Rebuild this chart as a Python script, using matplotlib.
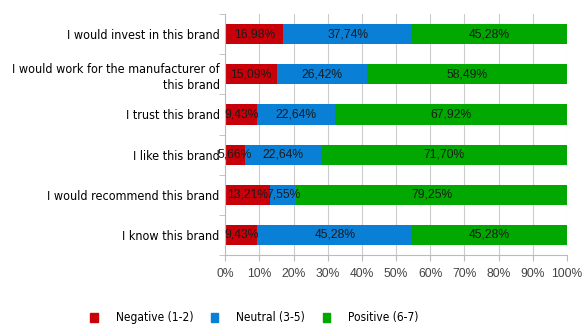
import numpy as np
import matplotlib.pyplot as plt
from matplotlib.patches import Patch

categories = ["I would invest in this brand",
              "I would work for the manufacturer of\nthis brand",
              "I trust this brand",
              "I like this brand",
              "I would recommend this brand",
              "I know this brand"]
negative = [16.98, 15.09, 9.43, 5.66, 13.21, 9.43]
neutral = [37.74, 26.42, 22.64, 22.64, 7.55, 45.28]
positive = [45.28, 58.49, 67.92, 71.70, 79.25, 45.28]
series_names = ["Negative (1-2)", "Neutral (3-5)", "Positive (6-7)"]
colors = ["#c8000a", "#0a7fd6", "#00a800"]

fig = plt.figure(figsize=(5.82, 3.27), dpi=100)
ax = fig.add_axes([0.387, 0.22, 0.587, 0.737])

y = np.arange(len(categories))
left = np.zeros(len(categories))
for vals, col in zip([negative, neutral, positive], colors):
    vals = np.array(vals)
    ax.barh(y, vals, left=left, height=0.5, color=col, zorder=2)
    for yi, l, v in zip(y, left, vals):
        txt = "{:.2f}%".format(v).replace(".", ",")
        ax.text(l + v / 2, yi, txt, ha="center", va="center", fontsize=8.7,
                color="#1a1a1a", zorder=3, family="Liberation Sans")
    left += vals

ax.set_xlim(0, 100)
ax.set_ylim(len(categories) - 0.5, -0.5)
ax.set_xticks(np.arange(0, 101, 10))
ax.set_xticklabels(["{}%".format(t) for t in range(0, 101, 10)],
                   fontsize=8.7, color="#444444", family="Liberation Sans")
ax.set_yticks(y)
ax.set_yticklabels(categories, fontsize=9, family="DejaVu Sans",
                   fontstretch="condensed", color="#000000", linespacing=1.3)
ax.set_yticks(np.arange(-0.5, len(categories)), minor=True)
ax.tick_params(axis="y", which="major", length=0, pad=4)
ax.tick_params(axis="y", which="minor", length=4, color="#bbbbbb")
ax.tick_params(axis="x", length=4, color="#bbbbbb", pad=5)
ax.grid(axis="x", color="#cccccc", linewidth=0.8, zorder=0)
for s in ["top", "right"]:
    ax.spines[s].set_visible(False)
for s in ["left", "bottom"]:
    ax.spines[s].set_color("#bbbbbb")

handles = [Patch(color=c) for c in colors]
fig.legend(handles, series_names, loc="center", bbox_to_anchor=(0.437, 0.028),
           ncol=3, frameon=False, handlelength=0.6, handleheight=0.8,
           columnspacing=1.5, handletextpad=1.5,
           prop={"family": "DejaVu Sans", "stretch": "condensed", "size": 8.6})

fig.savefig("out.png", dpi=100)
